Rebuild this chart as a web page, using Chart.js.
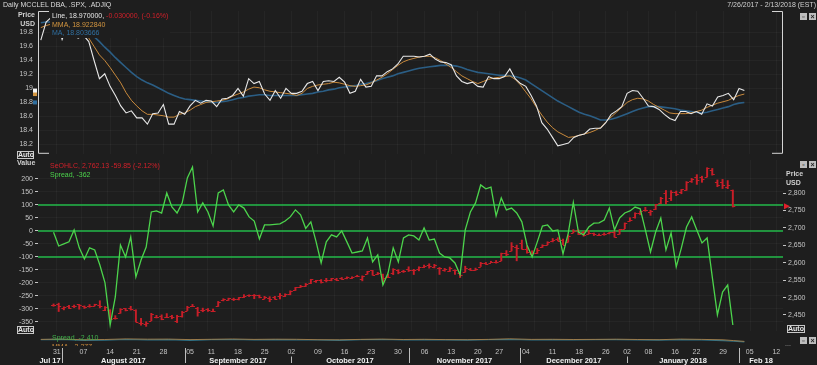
<!DOCTYPE html>
<html><head><meta charset="utf-8">
<script src="https://cdn.jsdelivr.net/npm/chart.js@4.4.1/dist/chart.umd.min.js"></script>
<style>
html,body{margin:0;padding:0;background:#1e1e1e;width:817px;height:365px;overflow:hidden;font-family:"Liberation Sans",Arial,sans-serif;}
canvas{position:absolute;left:0;}
.t{position:absolute;white-space:nowrap;font-size:7px;line-height:8px;color:#d0d0d0;}
.b{font-weight:bold;}
.auto{position:absolute;border:1px solid #c8c8c8;color:#e8e8e8;font-size:7px;line-height:6px;font-weight:bold;text-align:center;box-sizing:border-box;}
.ic{position:absolute;width:7px;height:7px;background:#bdbdbd;color:#222;font-size:7px;line-height:7px;text-align:center;font-weight:bold;}
</style></head><body>
<canvas id="cTop" width="817" height="163" style="top:0"></canvas>
<canvas id="cLow" width="817" height="190" style="top:150px"></canvas>
<canvas id="cStrip" width="817" height="35" style="top:330px"></canvas>

<div class="t" style="left:3px;top:1px;color:#dcdcdc">Daily MCCLEL DBA, .SPX, .ADJIQ</div>
<div class="t" style="right:1px;top:1px;color:#cfcfcf">7/26/2017 - 2/13/2018 (EST)</div>
<div class="ic" style="left:800px;top:13px">&#9643;</div><div class="ic" style="left:809px;top:13px">&#215;</div>
<div class="t b" style="right:782px;top:11px">Price</div>
<div class="t b" style="right:782px;top:20px">USD</div>
<div class="t" style="left:50px;top:11px;width:120px;height:27px;background:#1e1e1e"></div>
<div class="t" style="left:52px;top:12px"><span style="color:#e4e4e4">Line, 18.970000, </span><span style="color:#d0202a">-0.030000, (-0.16%)</span></div>
<div class="t" style="left:52px;top:21px;color:#d49640">MMA, 18.922840</div>
<div class="t" style="left:52px;top:29px;color:#2f6fa0">MA, 18.803666</div>
<div class="auto" style="left:17px;top:151px;width:17px;height:8px">Auto</div>

<div class="t b" style="left:17px;top:159px">Value</div>
<div class="t" style="left:50px;top:162px;color:#d0202a">SeOHLC, 2,762.13 -59.85 (-2.12%)</div>
<div class="t" style="left:50px;top:171px;color:#4cd44c">Spread, -362</div>
<div class="ic" style="left:800px;top:161px">&#9643;</div><div class="ic" style="left:809px;top:161px">&#215;</div>
<div class="t b" style="left:786px;top:170px">Price</div>
<div class="t b" style="left:786px;top:179px">USD</div>
<div class="auto" style="left:17px;top:326px;width:17px;height:8px">Auto</div>
<div class="auto" style="left:787px;top:325px;width:18px;height:8px">Auto</div>
<div class="ic" style="left:800px;top:337px">&#9643;</div><div class="ic" style="left:809px;top:337px">&#215;</div>
<div class="t" style="left:785px;top:340px;color:#aaa">...</div>
<div class="t" style="left:52px;top:334px;color:#3fae4a">Spread, -2,410</div>
<div style="position:absolute;left:52px;top:343px;height:3px;overflow:hidden"><div class="t" style="position:relative;color:#c98a3c">MMA, -2,377</div></div>

<script>
// ---------- data ----------
const monthLabels = ['Jul 17','August 2017','September 2017','October 2017','November 2017','December 2017','January 2018','Feb 18'];
const monthStartIdx = [0,4,27,47,69,90,110,131];
const dayTickLabels = ['31','07','14','21','28','05','11','18','25','02','09','16','23','30','06','13','20','27','04','11','18','26','02','08','16','22','29','05','12'];
const dayTickIdx = [3,8,13,18,23,28,32,37,42,47,52,57,62,67,72,77,82,86,91,96,101,106,110,114,119,123,128,133,138];
const topTicks = [18.2,18.4,18.6,18.8,19,19.2,19.4,19.6,19.8];
const leftTicks = [-350,-300,-250,-200,-150,-100,-50,0,50,100,150,200];
const rightTicks = [2450,2500,2550,2600,2650,2700,2750,2800];
const levelLines = [100,0,-100];

const lineVals = [19.69,19.95,20.02,19.98,19.70,19.90,19.95,19.72,19.76,19.67,
19.40,19.14,19.21,19.03,18.90,18.75,18.65,18.68,18.58,18.58,
18.49,18.64,18.65,18.77,18.49,18.49,18.67,18.63,18.75,18.83,
18.79,18.83,18.82,18.74,18.85,18.86,18.90,19.00,18.89,19.14,
19.07,19.10,18.92,18.83,18.97,18.86,19.00,18.93,18.93,18.96,
19.07,19.10,18.97,19.10,19.11,19.10,19.16,19.09,18.93,18.96,
19.13,19.02,19.03,19.18,19.18,19.24,19.28,19.35,19.46,19.46,
19.46,19.45,19.46,19.49,19.42,19.38,19.37,19.34,19.18,19.10,
19.07,19.09,19.03,19.02,19.17,19.14,19.14,19.17,19.28,19.14,
19.07,19.03,18.90,18.75,18.51,18.42,18.30,18.18,18.20,18.22,
18.30,18.33,18.35,18.42,18.43,18.43,18.51,18.63,18.68,18.74,
18.93,18.97,18.96,18.86,18.75,18.74,18.70,18.63,18.57,18.54,
18.67,18.67,18.64,18.67,18.63,18.78,18.75,18.88,18.90,18.93,
18.84,19.00,18.97];
const mmaVals = [19.87,19.90,19.92,19.92,19.90,19.90,19.88,19.85,19.80,19.72,
19.60,19.48,19.40,19.30,19.19,19.08,18.94,18.83,18.75,18.68,
18.63,18.63,18.62,18.61,18.59,18.59,18.63,18.65,18.69,18.74,
18.77,18.80,18.81,18.82,18.83,18.85,18.89,18.92,18.95,18.99,
19.02,19.01,18.98,18.96,18.95,18.94,18.93,18.92,18.90,18.93,
19.00,19.03,19.05,19.06,19.07,19.09,19.08,19.06,19.04,19.03,
19.04,19.05,19.08,19.12,19.16,19.21,19.27,19.33,19.38,19.41,
19.43,19.45,19.46,19.46,19.44,19.40,19.35,19.30,19.24,19.18,
19.14,19.10,19.07,19.10,19.13,19.15,19.16,19.17,19.18,19.13,
19.05,18.95,18.85,18.73,18.62,18.52,18.44,18.38,18.34,18.30,
18.31,18.33,18.35,18.37,18.40,18.44,18.52,18.59,18.66,18.73,
18.80,18.84,18.86,18.85,18.82,18.77,18.73,18.69,18.65,18.64,
18.64,18.64,18.65,18.67,18.69,18.73,18.76,18.79,18.81,18.83,
18.87,18.90,18.92];
const maVals = [19.94,19.95,19.95,19.94,19.93,19.91,19.89,19.86,19.83,19.80,
19.74,19.67,19.59,19.52,19.44,19.37,19.30,19.23,19.17,19.12,
19.08,19.05,19.01,18.97,18.93,18.90,18.87,18.85,18.84,18.83,
18.82,18.81,18.80,18.80,18.81,18.82,18.84,18.86,18.87,18.89,
18.90,18.91,18.91,18.90,18.90,18.90,18.90,18.90,18.90,18.91,
18.92,18.93,18.95,18.96,18.98,18.99,19.01,19.02,19.03,19.04,
19.06,19.07,19.09,19.11,19.14,19.16,19.18,19.21,19.23,19.25,
19.27,19.29,19.30,19.31,19.32,19.33,19.33,19.33,19.32,19.30,
19.27,19.25,19.23,19.22,19.21,19.20,19.19,19.19,19.18,19.17,
19.15,19.12,19.07,19.02,18.97,18.92,18.87,18.82,18.78,18.74,
18.70,18.66,18.63,18.61,18.58,18.55,18.55,18.56,18.58,18.61,
18.64,18.67,18.70,18.72,18.74,18.74,18.74,18.73,18.72,18.71,
18.69,18.68,18.67,18.66,18.65,18.66,18.68,18.70,18.72,18.74,
18.77,18.79,18.80];
const spreadVals = [-5,-58,-50,-42,4,-65,-108,-65,-73,-131,
-200,-362,-254,-54,-100,-23,-177,-112,-62,73,
77,69,146,92,69,108,204,246,73,108,
73,19,146,158,100,73,100,88,54,38,
-31,23,23,25,27,38,54,81,62,10,
35,-40,-123,-42,-15,-23,0,-42,-85,-81,
-77,-27,-119,-92,-208,-162,-65,-119,-27,-15,
-19,-35,12,-35,-31,-85,-100,-104,-123,-169,
4,73,108,177,162,169,58,127,81,88,
69,35,-54,-100,-42,19,23,0,4,-88,
-10,110,-4,-15,15,30,31,42,88,4,
50,69,77,92,85,4,-81,-4,50,-73,
-8,-138,-65,15,54,4,-46,-27,-177,-323,
-235,-208,-362];
const spxOpen = [2479.97,2482.76,2469.12,2475.94,2477.10,2480.38,2476.03,2476.88,2477.14,2478.35,
2465.35,2465.38,2441.04,2454.96,2468.66,2468.63,2462.95,2427.64,2425.50,2433.75,
2444.88,2447.91,2444.72,2447.35,2431.94,2446.06,2462.65,2474.42,2470.35,2463.83,
2468.06,2462.25,2474.52,2491.94,2493.89,2494.56,2495.67,2502.51,2506.29,2506.84,
2507.16,2497.26,2499.39,2501.04,2503.30,2503.41,2510.56,2521.20,2530.34,2533.48,
2540.86,2547.44,2551.39,2549.99,2550.62,2552.88,2555.66,2555.57,2557.17,2562.87,
2553.39,2567.56,2578.08,2568.66,2566.52,2560.08,2570.26,2577.75,2575.99,2583.21,
2579.46,2581.93,2587.47,2592.11,2588.71,2584.00,2580.18,2576.53,2577.75,2569.45,
2572.95,2582.94,2579.49,2589.17,2600.31,2600.42,2602.66,2605.94,2627.82,2633.93,
2645.10,2657.19,2639.78,2626.24,2628.38,2646.21,2652.19,2661.73,2667.59,2665.87,
2660.63,2685.92,2692.71,2688.18,2683.02,2684.22,2679.09,2682.10,2686.10,2689.15,
2683.73,2697.85,2719.31,2731.33,2742.67,2751.15,2745.55,2752.97,2770.18,2798.96,
2784.99,2802.40,2802.60,2809.16,2835.05,2845.42,2846.24,2847.48,2867.23,2832.74,
2832.41,2816.45,2808.92];
const spxHigh = [2481.69,2484.04,2473.53,2477.96,2478.51,2480.38,2476.03,2480.00,2480.95,2490.87,
2474.41,2465.38,2448.09,2468.22,2468.90,2474.93,2465.02,2440.27,2430.58,2454.77,
2448.91,2450.39,2453.96,2449.12,2449.19,2460.31,2475.01,2480.38,2471.97,2469.64,
2468.62,2467.11,2488.95,2496.77,2498.37,2498.43,2500.23,2508.32,2507.84,2508.85,
2507.16,2503.47,2502.54,2503.51,2511.75,2510.81,2519.44,2529.23,2535.13,2540.53,
2552.51,2549.41,2551.82,2555.23,2555.24,2555.33,2557.65,2559.47,2559.71,2564.11,
2562.36,2575.44,2578.29,2572.18,2567.40,2567.07,2582.98,2580.03,2578.29,2588.40,
2581.11,2588.42,2593.38,2597.02,2595.47,2586.50,2583.81,2587.66,2579.66,2572.84,
2590.09,2583.96,2584.64,2601.19,2600.94,2604.21,2606.41,2627.69,2634.89,2657.74,
2650.62,2665.19,2648.72,2634.41,2640.99,2651.65,2660.33,2669.72,2671.88,2668.09,
2679.63,2694.97,2694.44,2691.01,2692.64,2685.35,2682.74,2685.64,2687.66,2692.12,
2695.89,2714.37,2729.29,2743.45,2748.51,2759.14,2750.80,2767.56,2787.85,2807.54,
2807.04,2805.83,2810.33,2833.03,2842.24,2852.97,2848.56,2872.87,2870.62,2837.75,
2839.26,2835.96,2808.92];
const spxLow = [2474.94,2459.93,2464.66,2468.53,2471.14,2466.48,2468.85,2472.08,2475.88,2470.32,
2462.08,2437.75,2437.85,2454.96,2461.61,2463.86,2430.01,2420.69,2417.35,2433.67,
2441.42,2436.19,2442.22,2439.03,2428.20,2443.77,2462.65,2473.85,2446.55,2459.20,
2460.29,2459.40,2474.52,2490.37,2492.14,2491.35,2493.16,2499.92,2503.19,2496.67,
2499.00,2496.54,2488.03,2495.12,2495.91,2502.93,2507.99,2520.40,2528.85,2531.80,
2540.02,2543.79,2541.60,2544.86,2547.95,2548.31,2552.09,2553.83,2554.69,2559.67,
2547.92,2567.56,2564.33,2565.58,2544.00,2559.80,2565.94,2568.25,2572.15,2574.92,
2566.17,2576.77,2585.66,2584.35,2585.02,2566.33,2575.57,2574.48,2566.56,2557.45,
2572.95,2577.62,2578.24,2589.17,2595.23,2600.42,2598.87,2605.44,2620.32,2633.93,
2605.52,2639.03,2627.73,2624.75,2626.53,2644.10,2651.47,2659.78,2662.85,2652.01,
2659.14,2685.92,2680.74,2676.11,2682.40,2678.13,2677.96,2678.91,2682.69,2673.61,
2682.36,2697.77,2719.07,2727.92,2737.60,2747.86,2736.06,2752.78,2769.64,2768.64,
2778.38,2792.56,2798.08,2808.12,2830.59,2824.81,2830.94,2846.18,2851.48,2818.27,
2813.04,2812.70,2759.97];
const spxClose = [2477.83,2475.42,2472.10,2470.30,2476.35,2477.57,2472.16,2476.83,2480.91,2474.92,
2474.02,2438.21,2441.32,2465.84,2464.61,2468.11,2430.01,2425.55,2428.37,2452.51,
2444.04,2438.97,2443.05,2444.24,2446.30,2457.59,2471.65,2476.55,2457.85,2465.54,
2465.10,2461.43,2488.11,2496.48,2498.37,2495.62,2500.23,2503.87,2506.65,2508.24,
2500.60,2502.22,2496.66,2496.84,2507.04,2510.06,2519.36,2529.12,2534.58,2537.74,
2552.07,2549.33,2544.73,2550.64,2555.24,2550.93,2553.17,2557.64,2559.36,2561.26,
2562.10,2575.21,2564.98,2569.13,2557.15,2560.40,2581.07,2572.83,2575.26,2579.36,
2579.85,2587.84,2591.13,2590.64,2594.38,2584.62,2582.30,2584.84,2578.87,2564.62,
2585.64,2578.85,2582.14,2599.03,2597.08,2602.42,2601.42,2627.04,2626.07,2647.58,
2642.22,2639.44,2629.57,2629.27,2636.98,2651.50,2659.99,2664.11,2662.85,2652.01,
2675.81,2690.16,2681.47,2679.25,2684.57,2683.34,2680.50,2682.62,2687.54,2673.61,
2695.81,2713.06,2723.99,2743.15,2747.71,2751.29,2748.23,2767.56,2786.24,2776.42,
2802.56,2798.03,2810.30,2832.97,2839.13,2837.54,2839.25,2872.87,2853.53,2822.43,
2823.81,2821.98,2762.13];
const stripIdx = [0,4,8,12,16,20,24,28,32,36,40,44,48,52,56,60,64,68,72,76,80,84,88,92,96,100,104,108,112,116,120,124,128,130,132];
const stripTeal = [0.3,0.6,-0.4,-0.2,0.5,0.2,0.4,-0.3,0.3,0.5,0.1,0.4,0.2,0.0,-0.3,0.3,0.5,0.2,0.4,0.1,-0.1,0.3,0.5,0.2,0.4,0.1,0.3,0.4,0.2,-0.1,0.3,0.2,-0.6,-1.2,-1.8];
const stripOrange = [0.6,0.9,0.2,0.5,1.1,0.8,0.9,0.4,0.7,1.0,0.6,0.8,0.7,0.3,0.2,0.6,0.9,0.5,0.7,0.4,0.3,0.6,1.2,0.6,0.7,0.5,0.6,0.8,0.5,0.3,0.9,0.6,0.2,-0.6,-1.4];

// ---------- helpers ----------
const XMIN = -0.525, XMAX = 139.25;
const FONT = 'Liberation Sans';
Chart.defaults.font.family = FONT;
const pts = a => a.map((v,i)=>({x:i,y:v}));
const faint = 'rgba(255,255,255,0.035)';
const xGridAxis = {type:'linear',min:XMIN,max:XMAX,display:true,
  ticks:{display:false},grid:{color:faint,drawTicks:false},border:{display:false},
  afterBuildTicks:s=>{s.ticks=dayTickIdx.map(v=>({value:v}));},afterFit:s=>{s.height=0;}};
const base = {responsive:false,animation:false,devicePixelRatio:1,
  plugins:{legend:{display:false},tooltip:{enabled:false}}};

// ---------- top panel ----------
const topDeco = {id:'topDeco', afterDraw(chart){
  const {ctx, chartArea:a, scales:{y}} = chart;
  ctx.save(); ctx.strokeStyle='#d4d4d4'; ctx.lineWidth=1; ctx.beginPath();
  ctx.moveTo(a.left+11,a.top+0.5); ctx.lineTo(a.left+0.5,a.top+0.5); ctx.lineTo(a.left+0.5,a.bottom-0.5); ctx.lineTo(a.left+11,a.bottom-0.5);
  ctx.moveTo(a.right-11,a.top+0.5); ctx.lineTo(a.right-0.5,a.top+0.5); ctx.lineTo(a.right-0.5,a.bottom-0.5); ctx.lineTo(a.right-11,a.bottom-0.5);
  ctx.stroke();
  [[maVals,'#2f6fa0'],[mmaVals,'#d49640'],[lineVals,'#f4f4f4']].forEach(([arr,c])=>{
    const yy=y.getPixelForValue(arr[arr.length-1]); ctx.fillStyle=c; ctx.fillRect(a.left-5,yy-2,4,4);});
  ctx.restore();}};
new Chart(document.getElementById('cTop'),{type:'line',
  data:{datasets:[
    {data:pts(lineVals),borderColor:'#e8e8e8',borderWidth:1.1,pointRadius:0,order:1},
    {data:pts(mmaVals),borderColor:'#c98a3c',borderWidth:1,pointRadius:0,order:2},
    {data:pts(maVals),borderColor:'#2b5e85',borderWidth:1.6,pointRadius:0,order:3}]},
  options:{...base,layout:{padding:{top:11,bottom:6,left:0,right:34}},
    scales:{x:xGridAxis,
      y:{position:'left',min:18.0657,max:20.1077,afterFit:s=>{s.width=38;},
        afterBuildTicks:s=>{s.ticks=topTicks.map(v=>({value:v}));},
        ticks:{color:'#c4c4c4',font:{size:7},padding:5,callback:v=>String(Number(v.toFixed(1)))},
        grid:{color:faint,drawTicks:false},border:{display:false}}}},
  plugins:[topDeco]});

// ---------- lower panel ----------
const lowDeco = {id:'lowDeco',
  beforeDatasetsDraw(chart){
    const {ctx, chartArea:a, scales:{yL}} = chart;
    ctx.save(); ctx.strokeStyle='#22b848'; ctx.lineWidth=1.5;
    levelLines.forEach(v=>{const yy=yL.getPixelForValue(v); ctx.beginPath(); ctx.moveTo(a.left,yy); ctx.lineTo(a.right,yy); ctx.stroke();});
    ctx.restore();},
  afterDatasetDraw(chart,args){
    if(args.index!==0) return;
    const {ctx, scales:{yR}} = chart; const meta = chart.getDatasetMeta(0);
    ctx.save(); ctx.strokeStyle='#c81e28'; ctx.lineWidth=1;
    meta.data.forEach((el,i)=>{
      const yo=Math.round(yR.getPixelForValue(spxOpen[i]))+0.5, yc=Math.round(yR.getPixelForValue(spxClose[i]))+0.5;
      ctx.beginPath(); ctx.moveTo(el.x-2.5,yo); ctx.lineTo(el.x,yo); ctx.moveTo(el.x,yc); ctx.lineTo(el.x+2.5,yc); ctx.stroke();});
    ctx.restore();},
  afterDraw(chart){
    const {ctx, chartArea:a, scales:{yR}} = chart;
    const yy = yR.getPixelForValue(spxClose[spxClose.length-1]);
    ctx.save(); ctx.fillStyle='#e0202a'; ctx.beginPath();
    ctx.moveTo(a.right+1,yy-3); ctx.lineTo(a.right+7,yy); ctx.lineTo(a.right+1,yy+3); ctx.closePath(); ctx.fill(); ctx.restore();}};
new Chart(document.getElementById('cLow'),{type:'bar',
  data:{datasets:[
    {type:'bar',data:spxHigh.map((h,i)=>({x:i,y:[spxLow[i],h]})),backgroundColor:'#c81e28',barThickness:1.3,yAxisID:'yR',order:2},
    {type:'line',data:pts(spreadVals),borderColor:'#4cd44c',borderWidth:1.3,pointRadius:0,yAxisID:'yL',order:1}]},
  options:{...base,layout:{padding:{top:10,bottom:9,left:0,right:0}},
    scales:{x:xGridAxis,
      yL:{position:'left',min:-385,max:273,afterFit:s=>{s.width=38;},
        afterBuildTicks:s=>{s.ticks=leftTicks.map(v=>({value:v}));},
        ticks:{color:'#c4c4c4',font:{size:7},padding:2},
        grid:{color:faint,tickColor:'#c4c4c4',tickLength:3,drawTicks:true},border:{display:false}},
      yR:{position:'right',min:2404,max:2895,afterFit:s=>{s.width=34;},
        afterBuildTicks:s=>{s.ticks=rightTicks.map(v=>({value:v}));},
        ticks:{color:'#c4c4c4',font:{size:7},padding:2,callback:v=>v.toLocaleString('en-US')},
        grid:{drawOnChartArea:false,tickColor:'#c4c4c4',tickLength:3},border:{display:false}}}},
  plugins:[lowDeco]});

// ---------- strip + date axis ----------
const stripDeco = {id:'stripDeco', afterDraw(chart){
  const {ctx, chartArea:a, scales:{x}} = chart;
  ctx.save();
  const seps = monthStartIdx.slice(1).map(i=>x.getPixelForValue(i));
  const tickPx = dayTickIdx.map(i=>x.getPixelForValue(i));
  const bounds = [a.left, ...seps, a.right];
  ctx.strokeStyle='#bdbdbd'; ctx.lineWidth=1;
  seps.forEach(px=>{
    const p=Math.round(px)+0.5;
    const hit = tickPx.some(t=>Math.abs(t-px)<4);
    ctx.beginPath(); ctx.moveTo(p, hit?26.5:18); ctx.lineTo(p,33); ctx.stroke();});
  ctx.fillStyle='#f0f0f0'; ctx.font='bold 7.5px '+FONT; ctx.textAlign='center'; ctx.textBaseline='middle';
  monthLabels.forEach((m,k)=>{ctx.fillText(m,(bounds[k]+bounds[k+1])/2,30.5);});
  ctx.restore();}};
new Chart(document.getElementById('cStrip'),{type:'line',
  data:{datasets:[
    {data:stripIdx.map((v,k)=>({x:v,y:stripOrange[k]})),borderColor:'#9a7a4a',borderWidth:1,pointRadius:0},
    {data:stripIdx.map((v,k)=>({x:v,y:stripTeal[k]})),borderColor:'#2a7088',borderWidth:1.2,pointRadius:0}]},
  options:{...base,layout:{padding:{top:4,bottom:0,left:38,right:34}},
    scales:{x:{type:'linear',min:XMIN,max:XMAX,afterFit:s=>{s.height=19;},
        afterBuildTicks:s=>{s.ticks=dayTickIdx.map(v=>({value:v}));},
        ticks:{color:'#c4c4c4',font:{size:7},padding:2,autoSkip:false,maxRotation:0,
          callback:v=>dayTickLabels[dayTickIdx.indexOf(v)]},
        grid:{display:false,drawTicks:false},border:{display:false}},
      y:{display:false,min:-6,max:6}}},
  plugins:[stripDeco]});
</script>
</body></html>
